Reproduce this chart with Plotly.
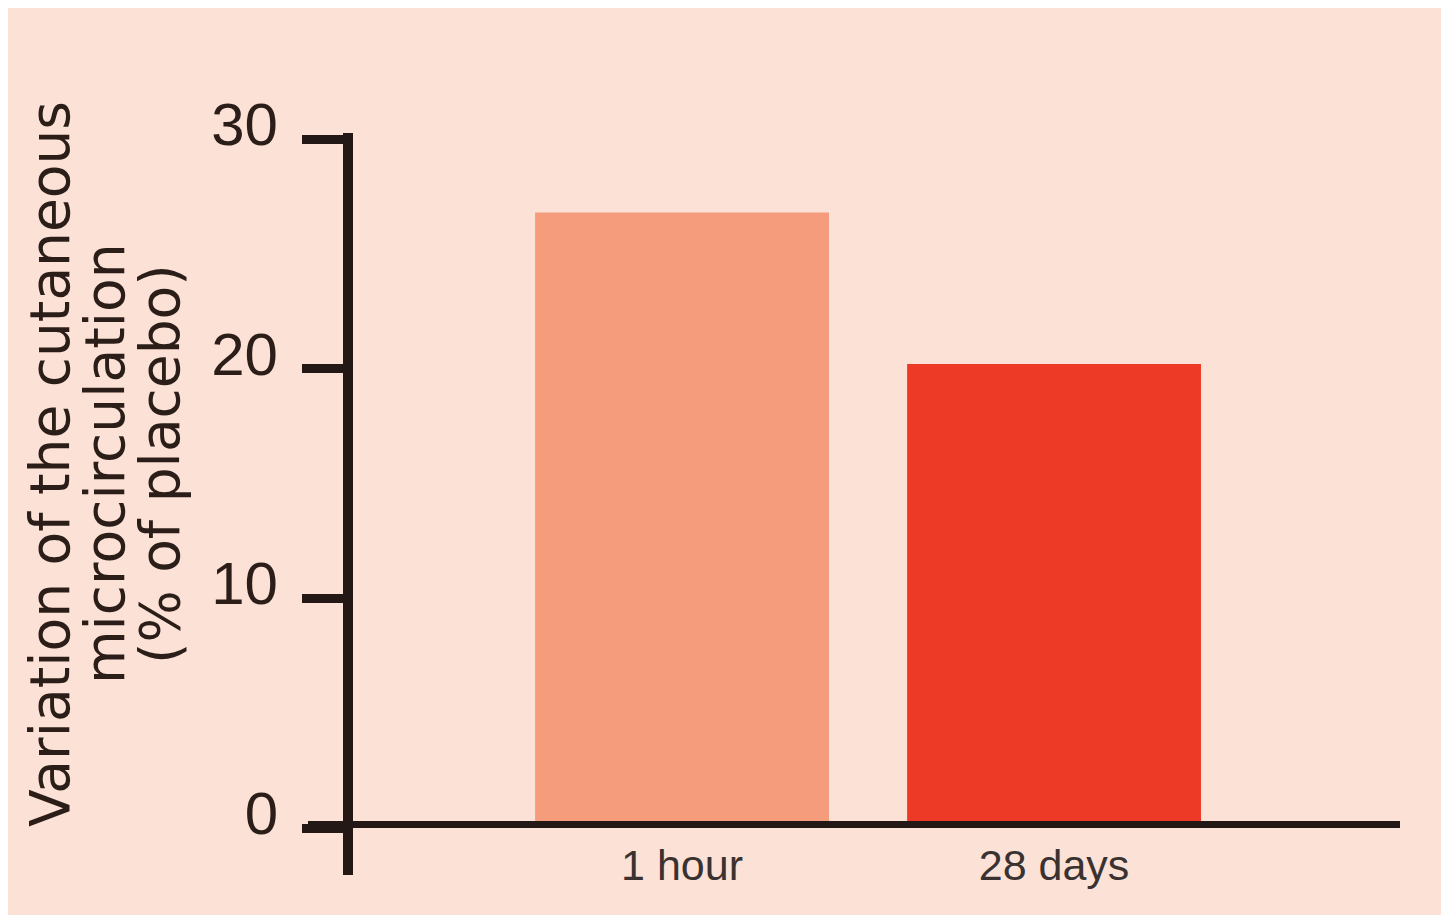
import plotly.graph_objects as go

# ---- data ----
categories = ["1 hour", "28 days"]
values = [26.8, 20.2]
bar_colors = ["#F49C7B", "#EC3A26"]
y_ticks = [0, 10, 20, 30]
y_title_lines = ["Variation of the cutaneous", "microcirculation", "(% of placebo)"]

PEACH = "#FCE1D6"
INK = "#231815"

W, H = 1441, 915
L, R, T, B = 348, 41, 139, 87
PW, PH = W - L - R, H - T - B


def px_x(p):
    return (p - L) / PW


def px_y(p):
    return (H - B - p) / PH


fig = go.Figure()
fig.add_trace(go.Bar(
    x=[0, 1], y=values, width=0.79,
    marker=dict(color=bar_colors, line=dict(width=0)),
    hoverinfo="skip",
))

fig.update_layout(
    width=W, height=H, autosize=False,
    margin=dict(l=L, r=R, t=T, b=B, pad=0),
    paper_bgcolor=PEACH, plot_bgcolor="rgba(0,0,0,0)",
    showlegend=False,
    xaxis=dict(
        range=[-0.898, 1.930], tickvals=[0, 1], ticktext=categories,
        showgrid=False, zeroline=False, showline=False, ticks="",
        tickfont=dict(family="Liberation Sans, Arial, sans-serif", size=43, color="#3a3230"),
        ticklabelstandoff=8, fixedrange=True,
    ),
    yaxis=dict(
        range=[0, 30], tickvals=y_ticks, ticktext=[str(v) for v in y_ticks],
        showgrid=False, zeroline=False, showline=False,
        ticks="outside", ticklen=45, tickwidth=9, tickcolor=INK,
        tickfont=dict(family="Liberation Sans, sans-serif", size=60, color="#2b1d18"),
        ticklabelstandoff=12, ticklabelshift=-15, fixedrange=True,
    ),
)

# white page border at left and top
fig.add_shape(type="rect", xref="paper", yref="paper", x0=px_x(0), x1=px_x(8),
              y0=px_y(H), y1=px_y(0), fillcolor="white", line=dict(width=0), layer="above")
fig.add_shape(type="rect", xref="paper", yref="paper", x0=px_x(0), x1=px_x(W),
              y0=px_y(8), y1=px_y(0), fillcolor="white", line=dict(width=0), layer="above")

# axis lines
fig.add_shape(type="line", xref="paper", yref="paper", x0=0, x1=0, y0=px_y(875), y1=px_y(133),
              line=dict(color=INK, width=10))
fig.add_shape(type="line", xref="paper", yref="y", x0=px_x(308), x1=1.0, y0=0, y1=0,
              line=dict(color=INK, width=14))

# y title as three rotated lines
for line_text, xp in zip(y_title_lines, [50, 105, 160]):
    fig.add_annotation(text=line_text, xref="paper", yref="paper", x=px_x(xp), y=px_y(464),
                       xanchor="center", yanchor="middle", textangle=-90, showarrow=False,
                       font=dict(family="DejaVu Sans, sans-serif", size=55, color="#2b1d18"))

post = (
    "document.body.style.margin='0';"
    "document.body.style.overflow='hidden';"
    f"document.body.style.background='{PEACH}';"
    f"document.documentElement.style.background='{PEACH}';"
)
fig.write_html("out.html", config={"displayModeBar": False}, post_script=post)
